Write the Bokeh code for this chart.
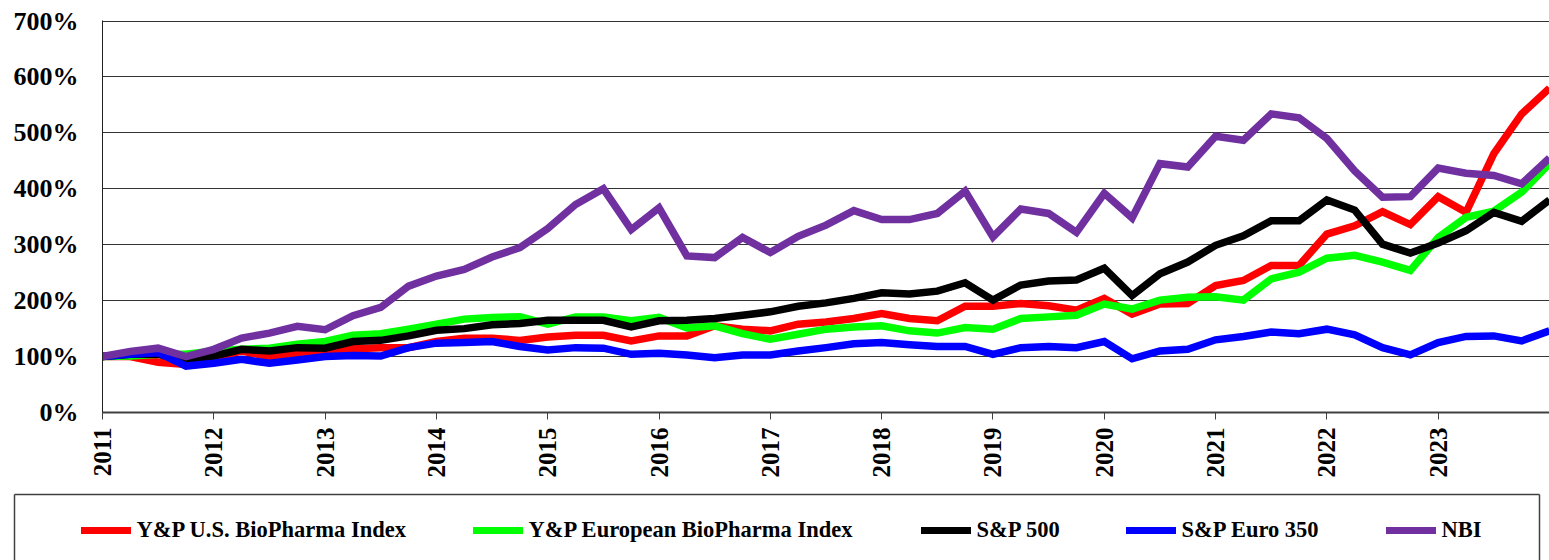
import math
from bokeh.plotting import figure
from bokeh.models import Range1d, FixedTicker, PrintfTickFormatter, Legend, LegendItem, LinearAxis
from bokeh.layouts import column
from bokeh.embed import file_html
from bokeh.resources import INLINE

# ---------------- data (quarterly, 2011 Q1 .. 2024 Q1) ----------------
year_ticks = list(range(2011, 2024))
y_ticks = [0, 100, 200, 300, 400, 500, 600, 700]
quarters = [2011 + 0.25 * i for i in range(53)]

series_names = ["Y&P U.S. BioPharma Index", "Y&P European BioPharma Index",
                "S&P 500", "S&P Euro 350", "NBI"]
series_colors = ["#FF0000", "#00FF00", "#000000", "#0000FF", "#7030A0"]

us_biopharma = [100, 100, 90, 86, 98, 110, 100, 107, 107, 114, 116, 116, 127, 133, 133, 129,
                135, 138, 138, 128, 137, 137, 155, 149, 146, 158, 162, 168, 177, 168, 164, 190,
                190, 195, 191, 183, 204, 176, 194, 195, 227, 236, 263, 263, 319, 334, 359, 336,
                386, 358, 463, 534, 580]
eu_biopharma = [100, 101, 104, 104, 110, 113, 115, 122, 127, 138, 141, 149, 158, 167, 170, 171,
                158, 171, 171, 164, 170, 151, 155, 141, 131, 140, 149, 153, 155, 146, 142, 152,
                149, 168, 171, 174, 194, 185, 201, 206, 207, 201, 239, 251, 276, 281, 269, 254,
                313, 349, 360, 394, 445]
sp500 = [100, 104, 104, 93, 101, 113, 110, 116, 115, 127, 129, 137, 147, 150, 157, 159,
         165, 165, 165, 153, 164, 165, 168, 174, 180, 190, 196, 204, 214, 212, 217, 232,
         201, 228, 235, 237, 258, 209, 248, 269, 299, 316, 343, 343, 380, 362, 301, 285,
         303, 325, 358, 342, 380]
sp_euro350 = [100, 104, 107, 83, 88, 95, 88, 94, 100, 102, 101, 116, 124, 125, 127, 118,
              112, 116, 115, 104, 106, 103, 98, 103, 103, 110, 116, 123, 125, 121, 118, 118,
              104, 116, 118, 116, 127, 96, 110, 113, 130, 136, 144, 141, 149, 139, 116, 103,
              125, 136, 137, 128, 146]
nbi = [100, 109, 115, 100, 113, 133, 142, 154, 148, 173, 188, 226, 244, 256, 278, 295,
       329, 372, 400, 327, 366, 280, 277, 313, 286, 315, 335, 361, 345, 345, 356, 396,
       314, 364, 356, 322, 392, 348, 445, 439, 494, 487, 534, 527, 490, 432, 385, 386,
       437, 428, 424, 409, 455]

series_values = [us_biopharma, eu_biopharma, sp500, sp_euro350, nbi]

FONT = "Liberation Serif"

# ---------------- main chart ----------------
p = figure(width=1549, height=486, output_backend="svg", toolbar_location=None,
           x_range=Range1d(2011, 2024), y_range=Range1d(0, 701),
           min_border_left=102, min_border_right=0, min_border_top=20, min_border_bottom=74)
p.frame_align = False
p.outline_line_color = None
p.background_fill_color = "white"
p.xgrid.visible = False
p.ygrid.grid_line_color = "#333333"
p.ygrid.grid_line_width = 1

p.yaxis.ticker = FixedTicker(ticks=y_ticks)
p.yaxis.formatter = PrintfTickFormatter(format="%d%%")
p.yaxis.major_tick_out = 0
p.yaxis.major_tick_in = 0
p.yaxis.minor_tick_line_color = None
p.yaxis.axis_line_color = "#202020"
p.yaxis.major_label_standoff = 24
p.yaxis.major_label_text_font = FONT
p.yaxis.major_label_text_font_style = "bold"
p.yaxis.major_label_text_font_size = "26px"
p.yaxis.major_label_text_color = "black"

p.xaxis.ticker = FixedTicker(ticks=year_ticks)
p.xaxis.major_label_orientation = math.pi / 2
p.xaxis.major_tick_out = 7
p.xaxis.major_tick_in = 0
p.xaxis.major_tick_line_color = "#404040"
p.xaxis.minor_tick_line_color = None
p.xaxis.axis_line_color = "#404040"
p.xaxis.axis_line_width = 2
p.xaxis.major_label_standoff = 8
p.xaxis.major_label_text_font = FONT
p.xaxis.major_label_text_font_style = "bold"
p.xaxis.major_label_text_font_size = "25px"
p.xaxis.major_label_text_color = "black"

for vals, col in zip(series_values, series_colors):
    p.line(quarters, vals, line_color=col, line_width=7.5, line_join="miter")

# ---------------- legend box ----------------
lg = figure(width=1549, height=74, output_backend="svg", toolbar_location=None,
            x_range=Range1d(0, 1), y_range=Range1d(0, 1),
            x_axis_type=None, y_axis_type=None,
            min_border_left=14, min_border_right=10, min_border_top=8, min_border_bottom=0)
lg.frame_align = False
lg.outline_line_color = None
for loc in ["above", "left", "right"]:
    ax = LinearAxis(ticker=FixedTicker(ticks=[]), major_label_text_font_size="0px",
                    major_tick_out=0, major_tick_in=0, minor_tick_out=0, minor_tick_in=0,
                    major_label_standoff=0, axis_line_color="#404040", axis_line_width=1.5)
    lg.add_layout(ax, loc)

legend_x = [66.5, 458.5, 906.5, 1111.5, 1371.5]
for name, vals, col, lx in zip(series_names, series_values, series_colors, legend_x):
    # same series, out of this panel's view: only its legend swatch is visible here
    r = lg.line(quarters, vals, line_color=col, line_width=7, line_cap="round")
    leg = Legend(items=[LegendItem(label=name, renderers=[r])], location=(lx, 17),
                 orientation="horizontal", padding=0, margin=0, spacing=0,
                 border_line_color=None, background_fill_alpha=0,
                 glyph_width=50, glyph_height=26, label_height=26, label_standoff=6,
                 label_text_font=FONT, label_text_font_style="bold",
                 label_text_font_size="22.5px", label_text_color="black")
    lg.add_layout(leg)

layout = column(p, lg, spacing=0)
open("out.html", "w").write(file_html(layout, INLINE))
